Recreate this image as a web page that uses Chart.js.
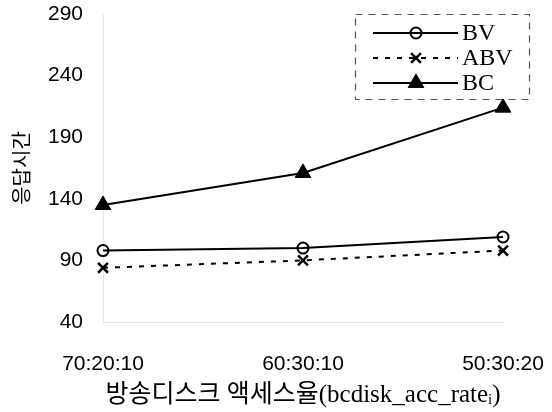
<!DOCTYPE html>
<html>
<head>
<meta charset="utf-8">
<script src="https://cdn.jsdelivr.net/npm/chart.js@4.4.1/dist/chart.umd.min.js"></script>
<style>
  html, body { margin: 0; padding: 0; background: #fff; }
  #wrap { width: 552px; height: 412px; }
</style>
</head>
<body>
<div id="wrap"><canvas id="c" width="552" height="412"></canvas></div>
<script>
const categories = ['70:20:10', '60:30:10', '50:30:20'];
const seriesBV  = [98, 100, 109];
const seriesABV = [84, 90, 98];
const seriesBC  = [135, 161, 214];
const yTicks = [40, 90, 140, 190, 240, 290];
const yTitle = '응답시간';
const xTitle = '방송디스크 액세스율(bcdisk_acc_rateᵢ)';

const legendPlugin = {
  id: 'boxLegend',
  afterDraw(chart) {
    const ctx = chart.ctx;
    ctx.save();
    ctx.fillStyle = '#fff';
    ctx.fillRect(355, 14, 174, 85);
    ctx.strokeStyle = '#555';
    ctx.lineWidth = 1.2;
    ctx.setLineDash([7, 6]);
    ctx.strokeRect(355.5, 14.5, 174, 85);
    const rows = [33, 58, 83];
    chart.data.datasets.forEach((ds, i) => {
      const y = rows[i];
      ctx.strokeStyle = '#000';
      ctx.lineWidth = 2;
      ctx.setLineDash(ds.borderDash || []);
      ctx.beginPath();
      ctx.moveTo(373, y);
      ctx.lineTo(458, y);
      ctx.stroke();
      ctx.setLineDash([]);
      ctx.fillStyle = ds.pointBackgroundColor;
      ctx.strokeStyle = '#000';
      ctx.lineWidth = ds.pointBorderWidth;
      Chart.helpers.drawPoint(ctx, {
        pointStyle: ds.pointStyle, radius: ds.pointRadius,
        borderWidth: ds.pointBorderWidth, rotation: 0
      }, 416, y);
      ctx.fillStyle = '#000';
      ctx.font = '24px "Liberation Serif"';
      ctx.textAlign = 'left';
      ctx.textBaseline = 'middle';
      ctx.fillText(ds.label, 462, y + 1);
    });
    ctx.restore();
  }
};

new Chart(document.getElementById('c'), {
  type: 'line',
  data: {
    labels: categories,
    datasets: [
      { label: 'BV', data: seriesBV, borderColor: '#000', borderWidth: 2,
        pointStyle: 'circle', pointRadius: 5.5, pointBorderWidth: 2,
        pointBackgroundColor: 'rgba(0,0,0,0)', pointBorderColor: '#000', tension: 0 },
      { label: 'ABV', data: seriesABV, borderColor: '#000', borderWidth: 2,
        borderDash: [5, 7],
        pointStyle: 'crossRot', pointRadius: 7, pointBorderWidth: 2.5,
        pointBackgroundColor: '#000', pointBorderColor: '#000', tension: 0 },
      { label: 'BC', data: seriesBC, borderColor: '#000', borderWidth: 2,
        pointStyle: 'triangle', pointRadius: 9, pointBorderWidth: 1,
        pointBackgroundColor: '#000', pointBorderColor: '#000', tension: 0 }
    ]
  },
  options: {
    responsive: false,
    animation: false,
    layout: { padding: { top: 14, right: 49, bottom: 0, left: 0 } },
    plugins: { legend: { display: false }, tooltip: { enabled: false } },
    scales: {
      x: {
        offset: false,
        grid: { display: false, drawTicks: false },
        border: { display: true, color: '#e2e2e2', width: 1 },
        ticks: { color: '#000', font: { family: '"Liberation Sans"', size: 21 }, padding: 30, maxRotation: 0, autoSkip: false },
        title: { display: true, text: xTitle, color: '#000',
          font: { family: '"Liberation Serif", "Noto Sans CJK KR", "DejaVu Serif"', size: 25 },
          padding: { top: 0, bottom: 2 } },
        afterFit(s) { s.height = 90; s.paddingLeft = 0; s.paddingRight = 0; }
      },
      y: {
        min: 40, max: 290,
        afterBuildTicks(s) { s.ticks = yTicks.map(v => ({ value: v })); },
        grid: { display: false, drawTicks: false },
        border: { display: true, color: '#e8e8e8', width: 1 },
        ticks: { color: '#000', font: { family: '"Liberation Sans"', size: 21 }, padding: 20 },
        title: { display: true, text: yTitle, color: '#000',
          font: { family: '"Noto Sans CJK KR"', size: 20 },
          padding: { top: 9, bottom: 0 } },
        afterFit(s) { s.width = 103; s.paddingTop = 0; s.paddingBottom = 0; }
      }
    }
  },
  plugins: [legendPlugin]
});
</script>
</body>
</html>
